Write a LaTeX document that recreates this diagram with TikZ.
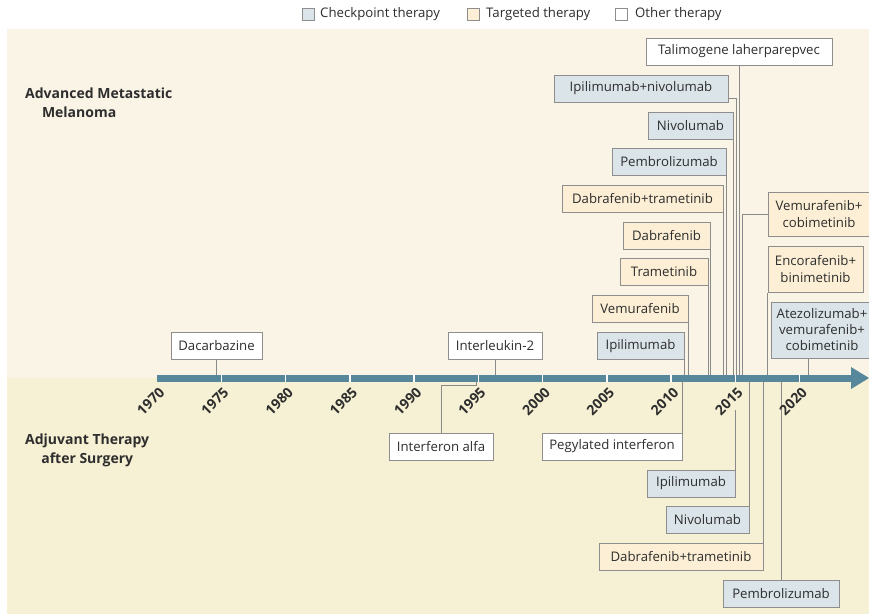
\documentclass[tikz,border=0pt]{standalone}
\usepackage{fontspec}
\setmainfont{Open Sans}
\usetikzlibrary{calc}
\definecolor{bgtop}{HTML}{FAF4E6}
\definecolor{bgbot}{HTML}{F6F0D4}
\definecolor{cpfill}{HTML}{DAE4E9}
\definecolor{tgfill}{HTML}{FCEFD5}
\definecolor{bord}{HTML}{8E8E8E}
\definecolor{connc}{HTML}{8A8A8A}
\definecolor{axcol}{HTML}{56879B}
\definecolor{txt}{HTML}{2E2E2E}
\pgfdeclarelayer{bg}
\pgfdeclarelayer{lines}
\pgfsetlayers{bg,lines,main}
\begin{document}
\begin{tikzpicture}[x=1pt,y=-1pt,
  every node/.style={text=txt},
  box/.style={draw=bord, line width=1pt, inner sep=0pt, minimum height=27pt, align=center,
    font=\fontsize{13.2}{17}\selectfont},
  cp/.style={box, fill=cpfill},
  tg/.style={box, fill=tgfill},
  ot/.style={box, fill=white},
  conn/.style={draw=connc, line width=0.9pt},
  yrlab/.style={rotate=45, anchor=east, inner sep=0pt, font=\fontsize{14}{14}\selectfont\bfseries},
  lgbox/.style={draw=bord, line width=0.8pt, minimum size=12pt, inner sep=0pt},
  lgtext/.style={anchor=west, inner sep=0pt, font=\fontsize{13.2}{15}\selectfont},
  sect/.style={anchor=north west, align=left, inner sep=0pt, font=\fontsize{14}{18.5}\selectfont\bfseries}
]
\useasboundingbox (0,0) rectangle (869,614);

% backgrounds
\begin{pgfonlayer}{bg}
  \fill[white] (0,0) rectangle (869,614);
  \fill[bgtop] (7,29) rectangle (869,378);
  \fill[bgbot] (7,378) rectangle (869,614);
\end{pgfonlayer}

% legend
\node[lgbox, fill=cpfill] (lcp) at (308,14.5) {};
\node[lgtext] (lcpt) at (320,14.5) {Checkpoint therapy};
\node[lgbox, fill=tgfill] (ltg) at (473,14.5) {};
\node[lgtext] (ltgt) at (486,14.5) {Targeted therapy};
\node[lgbox, fill=white] (lot) at (621,14.5) {};
\node[lgtext] (lott) at (635,14.5) {Other therapy};

% section labels
\node[sect] (adv) at (25,88) {Advanced Metastatic\\\hspace*{1.2em}Melanoma};
\node[sect] (adj) at (25,434) {Adjuvant Therapy\\\hspace*{1.15em}after Surgery};

% axis
\coordinate (axc) at (0,378);
\fill[axcol] (157,374.5) rectangle (853,381.5);
\fill[axcol] (851,367) -- (869,378) -- (851,389) -- cycle;
\foreach \yr in {1975,1980,...,2020}{
  \pgfmathsetmacro\xx{157+12.85*(\yr-1970)}
  \draw[white, line width=1.5pt] (\xx,374) -- (\xx,382);
}
\foreach \yr in {1970,1975,...,2020}{
  \pgfmathsetmacro\xx{157+12.85*(\yr-1970)}
  \node[yrlab] (y\yr) at (\xx+5,390) {\yr};
}

% upper boxes
\node[ot, minimum width=186pt] (tvec) at (739,51.5) {Talimogene laherparepvec};
\node[cp, minimum width=174pt] (ipinivo) at (641,88.5) {Ipilimumab+nivolumab};
\node[cp, minimum width=85pt] (nivoU) at (690.5,125.5) {Nivolumab};
\node[cp, minimum width=114pt] (pembroU) at (669,162) {Pembrolizumab};
\node[tg, minimum width=161pt] (dabtramU) at (642.5,199) {Dabrafenib+trametinib};
\node[tg, minimum width=87pt] (dabU) at (666.5,235.5) {Dabrafenib};
\node[tg, minimum width=88pt] (tramU) at (664,272) {Trametinib};
\node[tg, minimum width=96pt] (vemU) at (640,309) {Vemurafenib};
\node[cp, minimum width=87pt] (ipiU) at (640.5,346) {Ipilimumab};
\node[ot, minimum width=91pt] (dacarb) at (216.5,346) {Dacarbazine};
\node[ot, minimum width=94pt] (il2) at (495,346) {Interleukin-2};
\node[tg, minimum width=102pt, minimum height=44pt] (vemcobi) at (819,214) {Vemurafenib+\\cobimetinib};
\node[tg, minimum width=95pt, minimum height=46pt] (encobini) at (815.5,269) {Encorafenib+\\binimetinib};
\node[cp, minimum width=102pt, minimum height=56pt, font=\fontsize{13.2}{16}\selectfont] (atezo) at (822,330) {Atezolizumab+\\vemurafenib+\\cobimetinib};

% lower boxes
\node[ot, minimum width=104pt] (ifn) at (441,447) {Interferon alfa};
\node[ot, minimum width=140pt] (peg) at (612,446.5) {Pegylated interferon};
\node[cp, minimum width=88pt] (ipiL) at (691,483.5) {Ipilimumab};
\node[cp, minimum width=83pt] (nivoL) at (707.5,520) {Nivolumab};
\node[tg, minimum width=164pt] (dabtramL) at (681,557) {Dabrafenib+trametinib};
\node[cp, minimum width=116pt] (pembroL) at (781,593.5) {Pembrolizumab};

% connectors
\coordinate (inA) at (736,378);
\coordinate (vcA) at (742,378);
\coordinate (atA) at (808,378);
\coordinate (ifnA) at (476,378);
\begin{pgfonlayer}{lines}
  \draw[conn] (dacarb.south) -- (dacarb.south |- axc);
  \draw[conn] (il2.south) -- (il2.south |- axc);
  \draw[conn] (ipiU.south east) -- (ipiU.south east |- axc);
  \draw[conn] (vemU.south east) -- (vemU.south east |- axc);
  \draw[conn] (tramU.south east) -- (tramU.south east |- axc);
  \draw[conn] (dabU.south east) -- (dabU.south east |- axc);
  \draw[conn] (dabtramU.south east) -- (dabtramU.south east |- axc);
  \draw[conn] (pembroU.south east) -- (pembroU.south east |- axc);
  \draw[conn] (nivoU.south east) -- (nivoU.south east |- axc);
  \draw[conn] ($(ipinivo.south east)+(0,-4)$) -| (inA);
  \draw[conn] (tvec.south) -- (tvec.south |- axc);
  \draw[conn] (vemcobi.west) -| (vcA);
  \draw[conn] (encobini.south west) -- (encobini.south west |- axc);
  \draw[conn] (atezo.south -| atA) -- (atA);
  \draw[conn] (ifn.north) -- ++(0,-48) -| (ifnA);
  \draw[conn] (peg.north east) -- (peg.north east |- axc);
  \draw[conn] (ipiL.north east) -- ++(0,-60);
  \draw[conn] (nivoL.north east) -- (nivoL.north east |- axc);
  \draw[conn] (dabtramL.north east) -- (dabtramL.north east |- axc);
  \draw[conn] (pembroL.north) -- (pembroL.north |- axc);
\end{pgfonlayer}
\end{tikzpicture}
\end{document}
